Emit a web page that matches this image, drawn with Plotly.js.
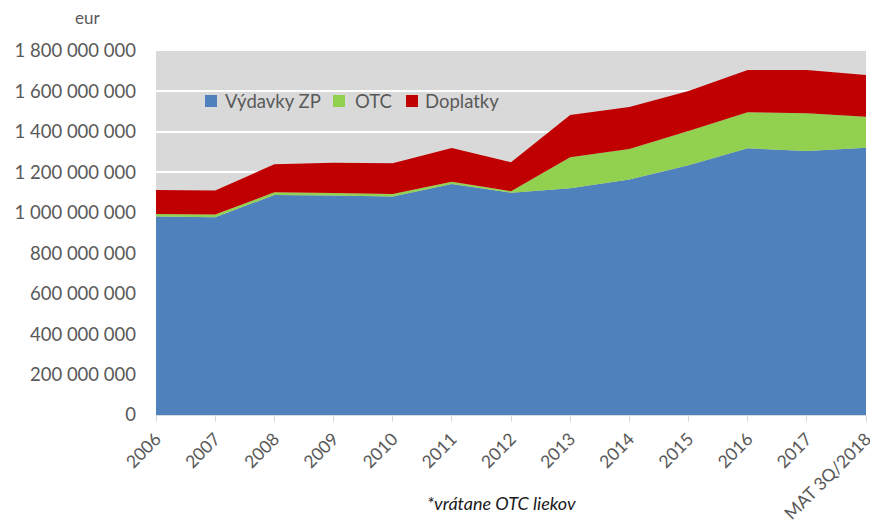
<!DOCTYPE html>
<html>
<head>
<meta charset="utf-8">
<script src="https://cdn.plot.ly/plotly-3.0.1.min.js"></script>
<style>html,body{margin:0;padding:0;background:#fff;}#chart{width:870px;height:528px;}</style>
</head>
<body>
<div id="chart"></div>
<script>
const categories = ["2006","2007","2008","2009","2010","2011","2012","2013","2014","2015","2016","2017","MAT 3Q/2018"];
const vydavkyZP = [981e6, 978e6, 1088e6, 1086e6, 1081e6, 1142e6, 1099e6, 1121e6, 1165e6, 1235e6, 1319e6, 1305e6, 1322e6];
const otc = [13e6, 13e6, 13e6, 12e6, 12e6, 12e6, 8e6, 153e6, 150e6, 169e6, 178e6, 187e6, 153e6];
const doplatky = [119e6, 119e6, 139e6, 150e6, 152e6, 166e6, 143e6, 210e6, 208e6, 198e6, 209e6, 214e6, 206e6];
const seriesNames = ["Výdavky ZP", "OTC", "Doplatky"];
const seriesColors = ["#4f81bd", "#92d050", "#c00000"];
const yTicks = [0, 200e6, 400e6, 600e6, 800e6, 1000e6, 1200e6, 1400e6, 1600e6, 1800e6];
const yTickText = ["0","200 000 000","400 000 000","600 000 000","800 000 000","1 000 000 000","1 200 000 000","1 400 000 000","1 600 000 000","1 800 000 000"];

const FONT = "Lato, 'Open Sans', sans-serif";
// plot area in pixels
const L = 156, R = 866, T = 51, B = 415;
const px = x => (x - L) / (R - L);
const py = y => (B - y) / (B - T);

function area(name, y, color) {
  return {
    type: "scatter", x: categories, y: y, name: name,
    stackgroup: "one", mode: "none", fillcolor: color,
    line: {width: 0}, hoverinfo: "x+y+name", showlegend: false
  };
}
const data = [
  area(seriesNames[0], vydavkyZP, seriesColors[0]),
  area(seriesNames[1], otc, seriesColors[1]),
  area(seriesNames[2], doplatky, seriesColors[2])
];

// legend (drawn as swatches + labels)
const legSwatchX = [205, 333, 406];
const legTextX = [223, 353, 423];
const legY = 101;
const shapes = [];
const annotations = [];
for (let i = 0; i < 3; i++) {
  shapes.push({type: "rect", xref: "paper", yref: "paper",
    x0: px(legSwatchX[i]), x1: px(legSwatchX[i] + 12),
    y0: py(legY + 6), y1: py(legY - 6),
    fillcolor: seriesColors[i], line: {width: 0}});
  annotations.push({text: seriesNames[i], xref: "paper", yref: "paper",
    x: px(legTextX[i]), y: py(legY), xanchor: "left", yanchor: "middle",
    showarrow: false, font: {size: 18.5, color: "#595959", family: FONT}});
}
annotations.push(
  {text: "eur", xref: "paper", yref: "paper", x: px(87), y: py(17),
   xanchor: "center", yanchor: "middle", showarrow: false,
   font: {size: 17, color: "#595959", family: FONT}},
  {text: "<i>*vrátane OTC liekov</i>", xref: "paper", yref: "paper", x: px(501), y: py(503),
   xanchor: "center", yanchor: "middle", showarrow: false,
   font: {size: 18, color: "#1a1a1a", family: FONT}}
);

const layout = {
  width: 870, height: 528,
  margin: {l: L, r: 870 - R, t: T, b: 528 - B},
  paper_bgcolor: "#ffffff",
  plot_bgcolor: "#d9d9d9",
  font: {family: FONT, color: "#595959", size: 17},
  showlegend: false,
  xaxis: {
    type: "category", range: [0, 12], tickangle: -45,
    showgrid: false, showline: true, linecolor: "#d9d9d9", linewidth: 1,
    ticks: "outside", ticklen: 6, tickcolor: "#d9d9d9",
    tickfont: {size: 17.5, color: "#595959"}, zeroline: false, fixedrange: true
  },
  yaxis: {
    range: [0, 1800e6], tickvals: yTicks, ticktext: yTickText,
    showgrid: true, gridcolor: "#ffffff", gridwidth: 2,
    zeroline: false, showline: false, ticks: "",
    ticklabelstandoff: 19,
    tickfont: {size: 18.5, color: "#595959"}, fixedrange: true
  },
  shapes: shapes,
  annotations: annotations
};
Plotly.newPlot("chart", data, layout, {displayModeBar: false, staticPlot: true});
</script>
</body>
</html>
